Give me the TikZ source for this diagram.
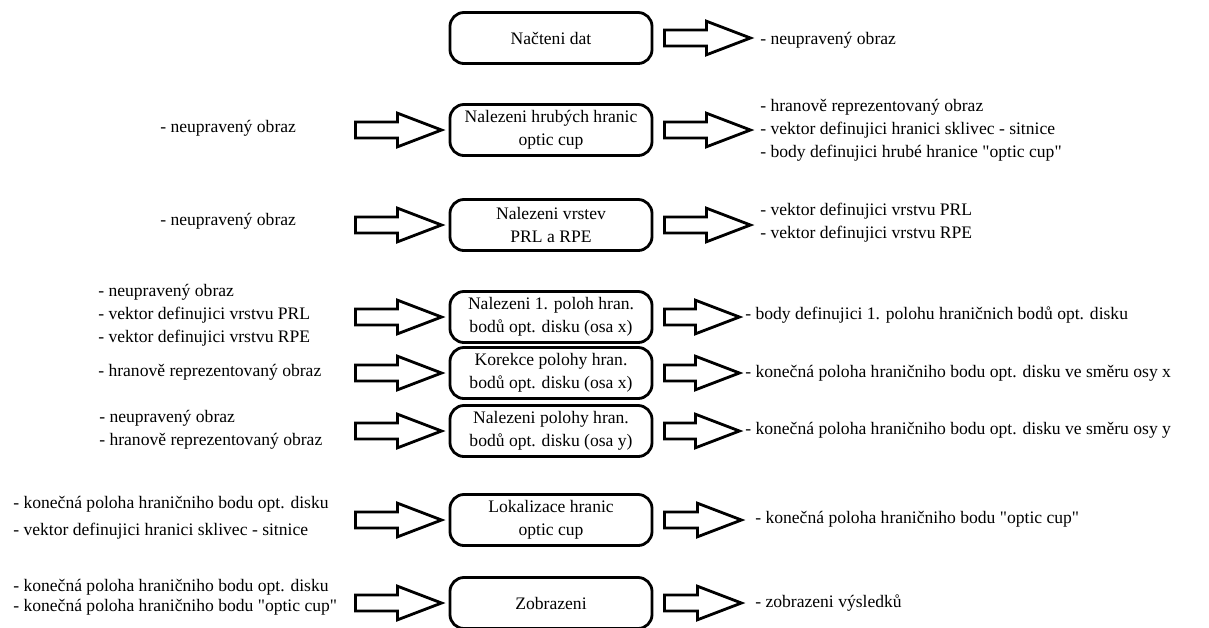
\documentclass[tikz,border=0pt]{standalone}
\usepackage{fontspec}
\setmainfont{Liberation Serif}[Ligatures=TeXOff]
\usetikzlibrary{calc,positioning}

% duta sipka mezi dvema body
\newcommand{\fatarrow}[2]{%
\draw[tlusta] let \p1=(#1), \p2=(#2) in
  (\x1,\y1+0.2cm) -- (\x2-1.1cm,\y1+0.2cm) -- (\x2-1.1cm,\y1+0.42cm) -- (\x2,\y1)
  -- (\x2-1.1cm,\y1-0.42cm) -- (\x2-1.1cm,\y1-0.2cm) -- (\x1,\y1-0.2cm) -- cycle;}
\newcommand{\inarrow}[1]{\fatarrow{$(#1.west)+(-93,0)$}{$(#1.west)+(-7,0)$}}
\newcommand{\outarrow}[2]{\fatarrow{$(#1.east)+(11,0)$}{$(#1.east)+(#2,0)$}}

\begin{document}
\begin{tikzpicture}[x=0.025cm,y=-0.025cm,
  font=\fontsize{12.5}{16.3}\selectfont,
  krok/.style={draw,line width=2pt,rounded corners=0.35cm,minimum width=5.05cm,
    minimum height=1.275cm,align=center,inner sep=2pt},
  popis/.style={anchor=west,inner sep=0pt,align=left},
  tlusta/.style={line width=2pt,line join=miter}]
\useasboundingbox (0,0) rectangle (1209,627);

% kroky
\node (b1) at (551,38) [krok] {Načteni dat};
\node (b2) at (551,130) [krok] {Nalezeni hrubých hranic\\optic cup};
\node (b3) at (551,225) [krok] {Nalezeni vrstev\\PRL a RPE};
\node (b4) at (551,317) [krok] {Nalezeni 1. poloh hran.\\bodů opt. disku (osa x)};
\node (b5) at (551,373) [krok] {Korekce polohy hran.\\bodů opt. disku (osa x)};
\node (b6) at (551,431) [krok] {Nalezeni polohy hran.\\bodů opt. disku (osa y)};
\node (b7) at (551,520) [krok] {Lokalizace hranic\\optic cup};
\node (b8) at (551,603) [krok] {Zobrazeni};

% vstupy
\node (l2) at (160,128) [popis] {- neupravený obraz};
\node (l3) at (160,221) [popis] {- neupravený obraz};
\node (l4) at (98,315) [popis] {- neupravený obraz\\- vektor definujici vrstvu PRL\\- vektor definujici vrstvu RPE};
\node (l5) at (98,372) [popis] {- hranově reprezentovaný obraz};
\node (l6) at (99,430) [popis] {- neupravený obraz\\- hranově reprezentovaný obraz};
\node (l7) at (13,518) [popis] {- konečná poloha hraničniho bodu opt. disku\\[3pt]- vektor definujici hranici sklivec - sitnice};
\node (l8) at (13,597) [popis] {- konečná poloha hraničniho bodu opt. disku\\[-2pt]- konečná poloha hraničniho bodu "optic cup"};

% vystupy
\node (r1) at (760,40) [popis] {- neupravený obraz};
\node (r2) at (760,130) [popis] {- hranově reprezentovaný obraz\\- vektor definujici hranici sklivec - sitnice\\- body definujici hrubé hranice "optic cup"};
\node (r3) at (760,223) [popis] {- vektor definujici vrstvu PRL\\- vektor definujici vrstvu RPE};
\node (r4) at (745,315) [popis] {- body definujici 1. polohu hraničnich bodů opt. disku};
\node (r5) at (745,373) [popis] {- konečná poloha hraničniho bodu opt. disku ve směru osy x};
\node (r6) at (745,430) [popis] {- konečná poloha hraničniho bodu opt. disku ve směru osy y};
\node (r7) at (755,519) [popis] {- konečná poloha hraničniho bodu "optic cup"};
\node (r8) at (755,603) [popis] {- zobrazeni výsledků};

% sipky
\outarrow{b1}{97}
\inarrow{b2} \outarrow{b2}{97}
\inarrow{b3} \outarrow{b3}{97}
\inarrow{b4} \outarrow{b4}{86}
\inarrow{b5} \outarrow{b5}{86}
\inarrow{b6} \outarrow{b6}{86}
\inarrow{b7} \outarrow{b7}{88}
\inarrow{b8} \outarrow{b8}{88}

\end{tikzpicture}
\end{document}
